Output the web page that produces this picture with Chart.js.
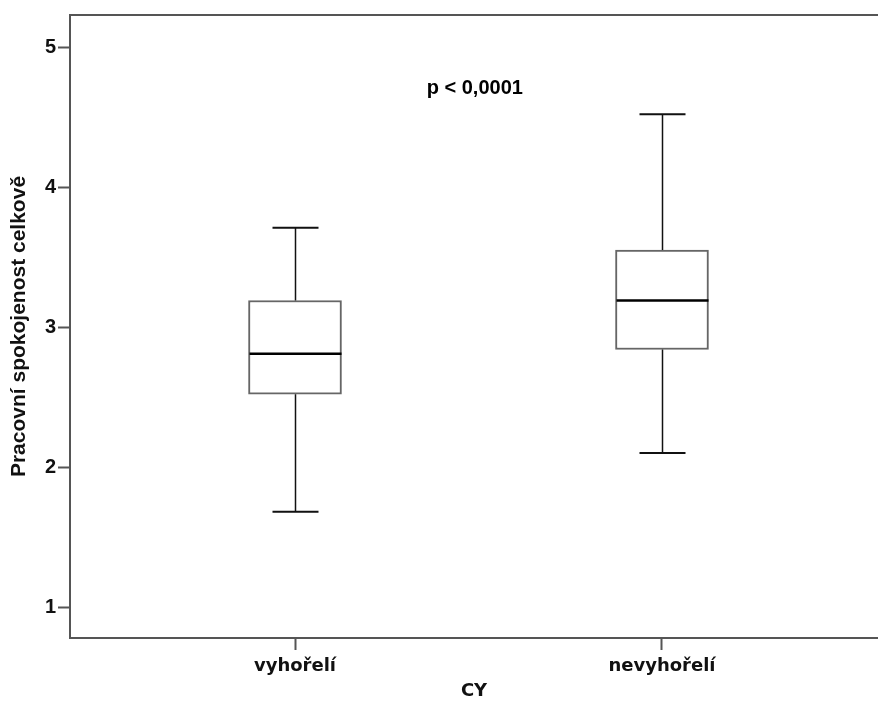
<!DOCTYPE html>
<html lang="cs">
<head>
<meta charset="UTF-8">
<title>Pracovní spokojenost celkově</title>
<script src="https://cdn.jsdelivr.net/npm/chart.js"></script>
<style>
  html, body { margin: 0; padding: 0; background: #fff; }
  #wrap { width: 878px; height: 711px; }
</style>
</head>
<body>
<div id="wrap"><canvas id="boxChart"></canvas></div>
<script>
// data
const skupiny = ['vyhořelí', 'nevyhořelí'];
const minima = [1.68, 2.10];
const q1 = [2.52, 2.84];
const mediany = [2.81, 3.19];
const q3 = [3.19, 3.55];
const maxima = [3.71, 4.52];
const yTicky = [1, 2, 3, 4, 5];
const popisek = 'p < 0,0001';

const ramecek = '#555555';

// vousy, medián, horní čára rámu a popisek p
const boxPlugin = {
  id: 'boxPlugin',
  afterDatasetsDraw(chart) {
    const ctx = chart.ctx;
    const xs = chart.scales.x;
    const ys = chart.scales.y;
    const area = chart.chartArea;
    ctx.save();
    skupiny.forEach((s, i) => {
      const cx = Math.round(xs.getPixelForValue(i)) + 0.5;
      const half = 46;
      const cap = 23;
      // vousy
      ctx.strokeStyle = '#111';
      ctx.lineWidth = 1.5;
      ctx.beginPath();
      ctx.moveTo(cx, ys.getPixelForValue(q3[i]));
      ctx.lineTo(cx, ys.getPixelForValue(maxima[i]));
      ctx.moveTo(cx, ys.getPixelForValue(q1[i]));
      ctx.lineTo(cx, ys.getPixelForValue(minima[i]));
      ctx.stroke();
      ctx.lineWidth = 2;
      ctx.beginPath();
      ctx.moveTo(cx - cap, ys.getPixelForValue(maxima[i]));
      ctx.lineTo(cx + cap, ys.getPixelForValue(maxima[i]));
      ctx.moveTo(cx - cap, ys.getPixelForValue(minima[i]));
      ctx.lineTo(cx + cap, ys.getPixelForValue(minima[i]));
      ctx.stroke();
      // medián
      ctx.strokeStyle = '#000';
      ctx.lineWidth = 2.5;
      ctx.beginPath();
      ctx.moveTo(cx - half, ys.getPixelForValue(mediany[i]));
      ctx.lineTo(cx + half, ys.getPixelForValue(mediany[i]));
      ctx.stroke();
    });
    // horní okraj
    ctx.strokeStyle = ramecek;
    ctx.lineWidth = 2;
    ctx.beginPath();
    ctx.moveTo(area.left - 1, area.top);
    ctx.lineTo(area.right, area.top);
    ctx.stroke();
    // p hodnota
    ctx.fillStyle = '#000';
    ctx.font = 'bold 20px "Liberation Sans", Arial, sans-serif';
    ctx.textAlign = 'center';
    ctx.textBaseline = 'middle';
    ctx.fillText(popisek, xs.getPixelForValue(0.49), ys.getPixelForValue(4.707));
    ctx.restore();
  }
};

const ctx = document.getElementById('boxChart').getContext('2d');

new Chart(ctx, {
  type: 'bar',
  data: {
    datasets: [{
      data: skupiny.map((s, i) => ({ x: i, y: [q1[i], q3[i]] })),
      backgroundColor: '#ffffff',
      borderColor: '#666666',
      borderWidth: 2,
      borderSkipped: false,
      barThickness: 93
    }]
  },
  options: {
    responsive: true,
    maintainAspectRatio: false,
    animation: false,
    layout: { padding: { top: 15, right: 0, bottom: 0, left: 0 } },
    plugins: {
      legend: { display: false },
      tooltip: { enabled: false }
    },
    scales: {
      x: {
        type: 'linear',
        offset: false,
        min: -0.6131,
        max: 1.5886,
        afterBuildTicks: (scale) => { scale.ticks = skupiny.map((s, i) => ({ value: i })); },
        afterFit: (scale) => { scale.height = 73; },
        ticks: {
          callback: (v) => skupiny[v],
          color: '#111',
          padding: 6,
          font: { family: '"DejaVu Sans"', size: 18, weight: 'bold' },
          maxRotation: 0
        },
        grid: { display: true, offset: false, drawOnChartArea: false, drawTicks: true, tickLength: 12, tickWidth: 2, color: ramecek },
        border: { display: true, color: ramecek, width: 2 },
        title: {
          display: true,
          text: 'CY',
          color: '#111',
          padding: { top: 0, bottom: 9 },
          font: { family: '"DejaVu Sans"', size: 18, weight: 'bold' }
        }
      },
      y: {
        min: 0.779,
        max: 5.229,
        afterBuildTicks: (scale) => { scale.ticks = yTicky.map(v => ({ value: v })); },
        afterFit: (scale) => { scale.width = 70; },
        ticks: {
          color: '#111',
          padding: 2,
          font: { family: '"Liberation Sans"', size: 20, weight: 'bold' }
        },
        grid: { display: true, drawOnChartArea: false, drawTicks: true, tickLength: 12, tickWidth: 2, color: ramecek },
        border: { display: true, color: ramecek, width: 2 },
        title: {
          display: true,
          text: 'Pracovní spokojenost celkově',
          color: '#111',
          padding: { top: 7, bottom: 0 },
          font: { family: '"Liberation Sans"', size: 21, weight: 'bold' }
        }
      }
    }
  },
  plugins: [boxPlugin]
});
</script>
</body>
</html>
